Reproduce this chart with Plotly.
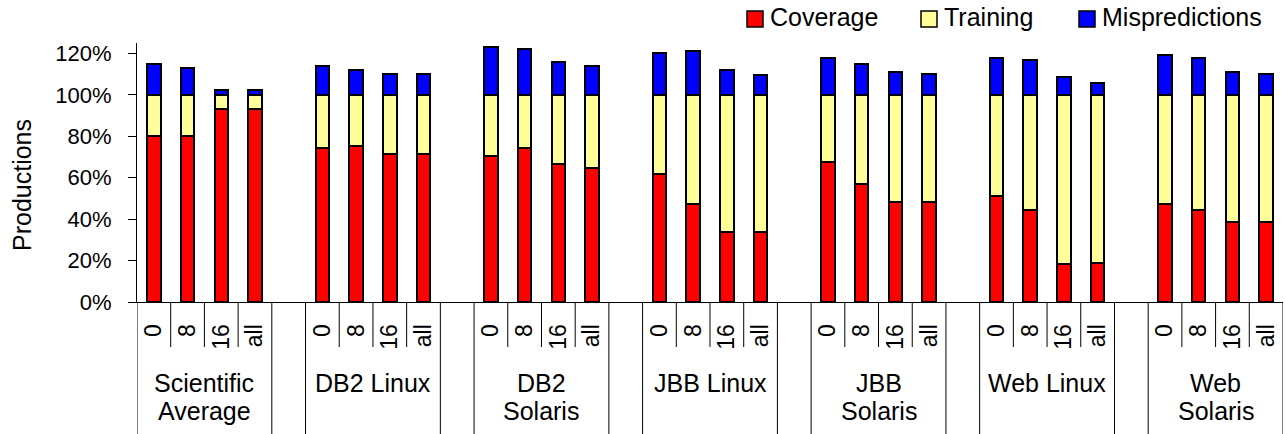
import plotly.graph_objects as go

# ---- data ---------------------------------------------------------------
groups = ["Scientific<br>Average", "DB2 Linux", "DB2<br>Solaris", "JBB Linux",
          "JBB<br>Solaris", "Web Linux", "Web<br>Solaris"]
configs = ["0", "8", "16", "all"]

coverage = [80, 80, 93, 93,
            74.5, 75.5, 71.5, 71.5,
            70.5, 74.5, 66.5, 64.5,
            62, 47.5, 34, 34,
            67.5, 57, 48.5, 48.5,
            51, 44.5, 18.5, 19,
            47.5, 44.5, 38.5, 38.5]
training = [20, 20, 7, 7,
            25.5, 24.5, 28.5, 28.5,
            29.5, 25.5, 33.5, 35.5,
            38, 52.5, 66, 66,
            32.5, 43, 51.5, 51.5,
            49, 55.5, 81.5, 81,
            52.5, 55.5, 61.5, 61.5]
mispredictions = [15, 13, 2.5, 2.5,
                  14, 12, 10, 10,
                  23, 22, 16, 14,
                  20, 21, 12, 9.5,
                  18, 15, 11, 10,
                  18, 17, 8.5, 5.5,
                  19, 18, 11, 10]

y_ticks = [0, 20, 40, 60, 80, 100, 120]
y_tick_text = ["0%", "20%", "40%", "60%", "80%", "100%", "120%"]

# ---- geometry -----------------------------------------------------------
W, H = 1286, 434
ML, MR, MT, MB = 137, 3, 43, 132
PW, PH = W - ML - MR, H - MT - MB
SLOTS_PER_GROUP = 5          # four bars and one empty slot between groups
n_groups = len(groups)
n_cfg = len(configs)

x_pos = [g * SLOTS_PER_GROUP + j for g in range(n_groups) for j in range(n_cfg)]
x_text = configs * n_groups


def px_x(px):
    return (px - ML) / PW


def px_y(py):
    return (H - MB - py) / PH


FONT = "Arial, Liberation Sans, sans-serif"
BORDER = dict(color="black", width=2)

fig = go.Figure()
for name, vals, color in [("Coverage", coverage, "#ff0000"),
                          ("Training", training, "#ffff99"),
                          ("Mispredictions", mispredictions, "#0000ff")]:
    fig.add_trace(go.Bar(x=x_pos, y=vals, name=name, width=0.4,
                         marker=dict(color=color, line=BORDER),
                         showlegend=False))

shapes = []
annotations = []

# separators below the category axis
short_end = px_y(347)
long_end = px_y(H)
for g in range(n_groups):
    base = g * SLOTS_PER_GROUP
    for b in (base - 0.5, base + n_cfg - 0.5):
        shapes.append(dict(type="line", xref="x", yref="paper", x0=b, x1=b,
                           y0=0, y1=long_end, line=dict(color="black", width=1)))
    for k in range(1, n_cfg):
        b = base + k - 0.5
        shapes.append(dict(type="line", xref="x", yref="paper", x0=b, x1=b,
                           y0=0, y1=short_end, line=dict(color="black", width=1)))

# group names, one annotation per text line
line_centres = [383, 411]
for g, label in enumerate(groups):
    centre = g * SLOTS_PER_GROUP + (n_cfg - 1) / 2
    for i, part in enumerate(label.split("<br>")):
        annotations.append(dict(x=centre, xref="x", y=px_y(line_centres[i]),
                                yref="paper", text=part, showarrow=False,
                                xanchor="center", yanchor="middle",
                                font=dict(family=FONT, size=25, color="black")))

# y-axis title
annotations.append(dict(x=px_x(22), y=px_y(185), xref="paper", yref="paper",
                        text="Productions", textangle=-90, showarrow=False,
                        xanchor="center", yanchor="middle",
                        font=dict(family=FONT, size=25, color="black")))

# legend
legend_items = [("Coverage", "#ff0000", 747), ("Training", "#ffff99", 921),
                ("Mispredictions", "#0000ff", 1079)]
for name, color, left in legend_items:
    shapes.append(dict(type="rect", xref="paper", yref="paper",
                       x0=px_x(left), x1=px_x(left + 16),
                       y0=px_y(27), y1=px_y(11),
                       fillcolor=color, line=dict(color="black", width=1.5)))
    annotations.append(dict(x=px_x(left + 21), y=px_y(17), xref="paper",
                            yref="paper", text=name, showarrow=False,
                            xanchor="left", yanchor="middle",
                            font=dict(family=FONT, size=25, color="black")))

fig.update_layout(
    width=W, height=H,
    margin=dict(l=ML, r=MR, t=MT, b=MB, pad=0),
    barmode="stack",
    plot_bgcolor="white", paper_bgcolor="white",
    font=dict(family=FONT, color="black"),
    shapes=shapes, annotations=annotations,
    showlegend=False,
    xaxis=dict(range=[-0.5, n_groups * SLOTS_PER_GROUP - 1.5],
               tickmode="array", tickvals=x_pos, ticktext=x_text,
               tickangle=-90, ticks="", showline=True, linecolor="black",
               linewidth=1, showgrid=False, zeroline=False,
               tickfont=dict(family=FONT, size=23, color="black"),
               ticklabelstandoff=12),
    yaxis=dict(range=[0, 125], tickmode="array", tickvals=y_ticks,
               ticktext=y_tick_text, ticks="outside", ticklen=8,
               tickcolor="black", tickwidth=1, showline=True,
               linecolor="black", linewidth=1, showgrid=False,
               zeroline=False, ticklabelstandoff=12,
               tickfont=dict(family=FONT, size=22, color="black")),
)

fig.write_html("out.html")
